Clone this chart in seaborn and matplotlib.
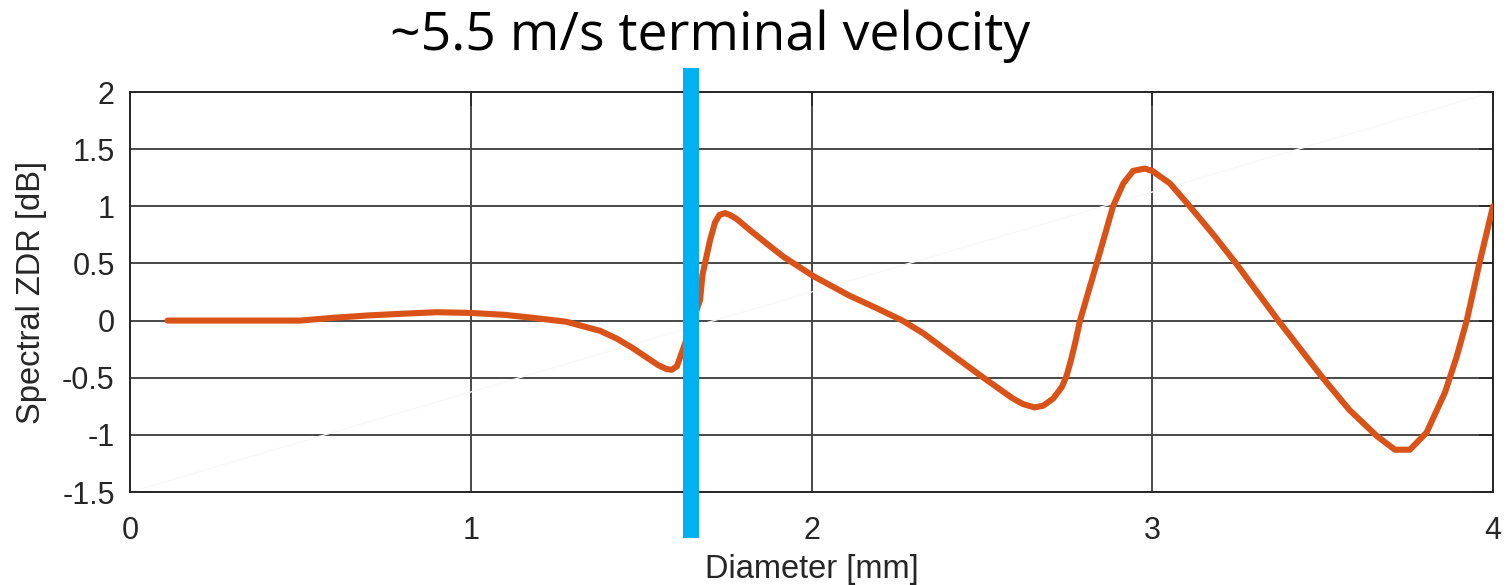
import numpy as np
import pandas as pd
import matplotlib
matplotlib.use("Agg")
import matplotlib.pyplot as plt
import seaborn as sns

# Spectral differential reflectivity versus drop diameter
diameter_mm = [0.11, 0.30, 0.50, 0.60, 0.70, 0.80, 0.90, 1.00, 1.10, 1.18,
               1.28, 1.38, 1.43, 1.475, 1.52, 1.55, 1.575, 1.59, 1.605, 1.623,
               1.65, 1.673, 1.68, 1.702, 1.717, 1.73, 1.746, 1.76, 1.78, 1.82,
               1.87, 1.917, 2.005, 2.11, 2.19, 2.267, 2.33, 2.395, 2.50, 2.59,
               2.62, 2.655, 2.68, 2.71, 2.735, 2.749, 2.762, 2.775, 2.788, 2.837,
               2.885, 2.915, 2.944, 2.978, 3.00, 3.052, 3.11, 3.18, 3.246, 3.37,
               3.50, 3.578, 3.659, 3.712, 3.756, 3.805, 3.859, 3.893, 3.923, 3.96,
               4.00]
zdr_db = [0.0, 0.0, 0.0, 0.025, 0.045, 0.06, 0.073, 0.067, 0.05, 0.025,
          -0.01, -0.09, -0.16, -0.24, -0.33, -0.39, -0.425, -0.43, -0.40, -0.25,
          -0.02, 0.18, 0.40, 0.70, 0.86, 0.925, 0.94, 0.925, 0.89, 0.79,
          0.67, 0.56, 0.39, 0.22, 0.11, 0.0, -0.115, -0.26, -0.49, -0.68,
          -0.73, -0.76, -0.745, -0.68, -0.58, -0.48, -0.34, -0.18, 0.0, 0.50,
          1.00, 1.20, 1.31, 1.33, 1.31, 1.20, 1.00, 0.75, 0.50, 0.0,
          -0.50, -0.78, -1.01, -1.13, -1.13, -0.98, -0.63, -0.32, 0.0, 0.50,
          1.00]

# Faint diagonal reference line spanning the axes
diag_x = [0.0, 4.0]
diag_y = [-1.5, 2.0]

# Diameter where terminal velocity reaches ~5.5 m/s
marker_diameter = 1.646
marker_span = [-1.90, 2.21]

x_ticks = [0, 1, 2, 3, 4]
y_ticks = [-1.5, -1, -0.5, 0, 0.5, 1, 1.5, 2]
y_tick_labels = ["-1.5", "-1", "-0.5", "0", "0.5", "1", "1.5", "2"]

title_text = "~5.5 m/s terminal velocity"
x_label = "Diameter [mm]"
y_label = "Spectral ZDR [dB]"

sns.set_style("white")
plt.rcParams["font.family"] = ["Liberation Sans", "DejaVu Sans"]

W, H = 1508, 585
fig = plt.figure(figsize=(W / 100, H / 100), dpi=100)
ax = fig.add_axes([130 / W, 1 - 492 / H, 1363 / W, 400 / H])

text_col = "#262626"
grid_col = "#474747"

df = pd.DataFrame({"Diameter": diameter_mm, "ZDR": zdr_db})

ax.plot(diag_x, diag_y, color="#f8f8f8", lw=1.0, zorder=1)
sns.lineplot(data=df, x="Diameter", y="ZDR", ax=ax, color="#D95319",
             lw=4.4, estimator=None, sort=False, zorder=3)
for ln in ax.lines:
    ln.set_solid_joinstyle("round")
ax.plot([marker_diameter, marker_diameter], marker_span, color="#00B0F0",
        lw=11.5, solid_capstyle="butt", clip_on=False, zorder=4)

ax.set_xlim(0, 4)
ax.set_ylim(-1.5, 2)
ax.set_xticks(x_ticks)
ax.set_xticklabels([str(t) for t in x_ticks])
ax.set_yticks(y_ticks)
ax.set_yticklabels(y_tick_labels)

ax.grid(True, color=grid_col, lw=1.4, zorder=0)
ax.set_axisbelow(True)
for s in ax.spines.values():
    s.set_visible(True)
    s.set_color(text_col)
    s.set_linewidth(1.4)

ax.tick_params(axis="both", which="major", direction="in", length=10,
               width=1.2, color=text_col, labelcolor=text_col, labelsize=22,
               top=True, right=True)
ax.tick_params(axis="x", pad=17)
ax.tick_params(axis="y", pad=11)

ax.set_xlabel(x_label, fontsize=23.5, color=text_col, labelpad=6)
ax.set_ylabel(y_label, fontsize=23.5, color=text_col)
ax.yaxis.set_label_coords(-0.061, 0.5)

fig.text(710 / W, 1 - 36 / H, title_text, ha="center", va="center",
         fontsize=38.5, color="black", family=["Open Sans", "DejaVu Sans"])

fig.savefig("out.png", dpi=100, facecolor="white")
